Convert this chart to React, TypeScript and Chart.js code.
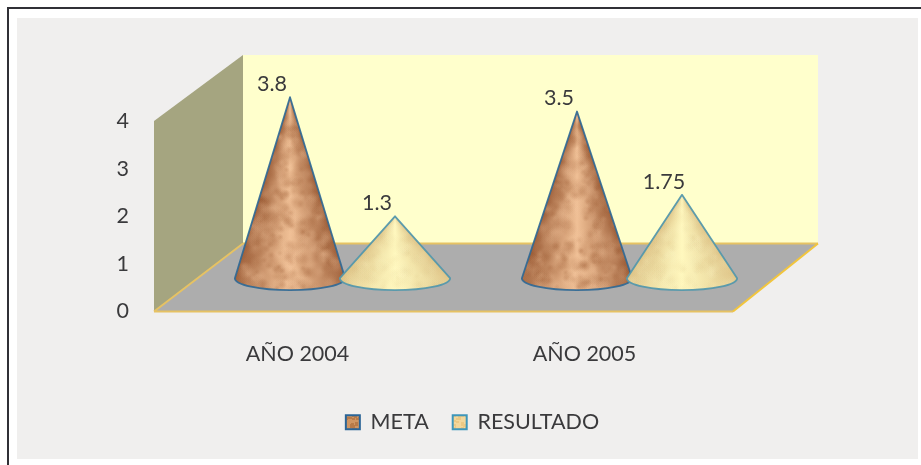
import React, { useEffect, useRef } from "react";
import { Chart, registerables } from "chart.js";

Chart.register(...registerables);

const categories = ["AÑO 2004", "AÑO 2005"];
const metaValues = [3.8, 3.5];
const resultadoValues = [1.3, 1.75];
const yTicks = [0, 1, 2, 3, 4];

const DEPTH_X = 45;
const DEPTH_Y = 33.3;
const TEXT = "#3a3a3c";
const FONT = "Lato, sans-serif";
const FONT_SIZE = 21.5;

type Rgb = [number, number, number];
interface Skin {
  dark: Rgb;
  light: Rgb;
  blot: string;
  blotLight: string;
  blotAlpha: number;
  edge: string;
}

const SKINS: Skin[] = [
  { dark: [160, 98, 60], light: [240, 192, 150], blot: "146,80,40", blotLight: "242,196,156", blotAlpha: 0.18, edge: "rgba(44,104,150,0.9)" },
  { dark: [222, 196, 136], light: [255, 248, 190], blot: "205,175,115", blotLight: "255,250,205", blotAlpha: 0.08, edge: "rgba(84,152,172,0.95)" },
];

// Small deterministic generator so the mottled cone surface is stable between renders.
const lcg = (seed: number) => () => {
  seed = (seed * 1664525 + 1013904223) >>> 0;
  return seed / 4294967296;
};

const mix = (a: Rgb, b: Rgb, t: number) =>
  `rgb(${a.map((v, i) => Math.round(v + (b[i] - v) * t)).join(",")})`;

function drawCone(ctx: CanvasRenderingContext2D, cx: number, baseY: number, apexY: number, r: number, skin: Skin, seed: number) {
  const ry = 12;
  const outline = () => {
    ctx.beginPath();
    ctx.moveTo(cx, apexY);
    ctx.lineTo(cx + r, baseY);
    ctx.ellipse(cx, baseY, r, ry, 0, 0, Math.PI);
    ctx.closePath();
  };
  ctx.save();
  outline();
  ctx.save();
  ctx.clip();
  // Shading converges on the apex, so a conic gradient centred there follows the surface.
  const shade = ctx.createConicGradient(0, cx, apexY);
  const span = 24;
  const h = baseY - apexY;
  for (let i = 0; i <= span; i++) {
    const u = 1 - (2 * i) / span;
    const angle = Math.atan2(h, r * u);
    const t = Math.max(0, 1 - Math.abs(u));
    shade.addColorStop(angle / (2 * Math.PI), mix(skin.dark, skin.light, Math.pow(t, 0.9)));
  }
  ctx.fillStyle = shade;
  ctx.fillRect(cx - r - 2, apexY - 2, 2 * r + 4, h + ry + 4);
  // Soft blotches give the surface its mottled look.
  const rnd = lcg(seed);
  const total = h + ry;
  const count = Math.round(total * 1.9);
  for (let i = 0; i < count; i++) {
    const y = apexY + total * Math.sqrt(rnd());
    const x = cx + (rnd() * 2 - 1) * r * ((y - apexY) / h);
    const br = 3 + rnd() * 6;
    const col = rnd() < 0.55 ? skin.blot : skin.blotLight;
    const g = ctx.createRadialGradient(x, y, 0, x, y, br);
    g.addColorStop(0, `rgba(${col},${skin.blotAlpha})`);
    g.addColorStop(1, `rgba(${col},0)`);
    ctx.fillStyle = g;
    ctx.fillRect(x - br, y - br, br * 2, br * 2);
  }
  ctx.restore();
  outline();
  ctx.strokeStyle = skin.edge;
  ctx.lineWidth = 1.8;
  ctx.lineJoin = "round";
  ctx.stroke();
  ctx.restore();
}

function swatch(base: string, spot: string, seed: number) {
  const c = document.createElement("canvas");
  c.width = c.height = 12;
  const g = c.getContext("2d")!;
  g.fillStyle = base;
  g.fillRect(0, 0, 12, 12);
  const rnd = lcg(seed);
  g.fillStyle = spot;
  for (let i = 0; i < 14; i++) g.fillRect(Math.floor(rnd() * 12), Math.floor(rnd() * 12), 3, 2);
  return g.createPattern(c, "repeat")!;
}

// Frame, panel and the 3D box behind the cones.
const stagePlugin = {
  id: "stage",
  beforeDraw(chart: any) {
    const { ctx, chartArea: a } = chart;
    const front = a.bottom;
    const backLeft = a.left + 89;
    const backRight = a.right + 90;
    const frontRight = a.right + 5;
    const backTop = a.top - 66;
    const backFloor = a.bottom - 68;
    ctx.save();
    ctx.fillStyle = "#ffffff";
    ctx.fillRect(0, 0, chart.width, chart.height);
    ctx.fillStyle = "#f0efee";
    ctx.fillRect(17, 18, 901, 441);
    ctx.fillStyle = "#303036";
    ctx.fillRect(7, 7, chart.width - 7, 2);
    ctx.fillRect(7, 7, 2, chart.height - 7);

    ctx.fillStyle = "#ffffcc";
    ctx.fillRect(backLeft, backTop, backRight - backLeft, backFloor - backTop);

    ctx.fillStyle = "#a5a580";
    ctx.beginPath();
    ctx.moveTo(a.left, a.top);
    ctx.lineTo(backLeft, backTop);
    ctx.lineTo(backLeft, backFloor);
    ctx.lineTo(a.left, front);
    ctx.closePath();
    ctx.fill();

    ctx.fillStyle = "#adadad";
    ctx.beginPath();
    ctx.moveTo(a.left, front);
    ctx.lineTo(backLeft, backFloor);
    ctx.lineTo(backRight, backFloor);
    ctx.lineTo(frontRight, front);
    ctx.closePath();
    ctx.fill();

    ctx.strokeStyle = "#e6c263";
    ctx.lineWidth = 2;
    ctx.beginPath();
    ctx.moveTo(backLeft, backFloor);
    ctx.lineTo(backRight, backFloor);
    ctx.moveTo(a.left, front);
    ctx.lineTo(backLeft, backFloor);
    ctx.moveTo(a.left, front);
    ctx.lineTo(frontRight, front);
    ctx.stroke();
    ctx.strokeStyle = "#f2c53c";
    ctx.beginPath();
    ctx.moveTo(frontRight, front);
    ctx.lineTo(backRight, backFloor);
    ctx.stroke();
    ctx.restore();
  },
};

// Cones and value labels, placed from the bar elements the chart has laid out.
const conePlugin = {
  id: "cones",
  afterDatasetsDraw(chart: any) {
    const { ctx } = chart;
    const y = chart.scales.y;
    chart.data.datasets.forEach((ds: any, di: number) => {
      chart.getDatasetMeta(di).data.forEach((bar: any, i: number) => {
        const value = ds.data[i];
        const cx = bar.x + DEPTH_X;
        const baseY = y.getPixelForValue(0) - DEPTH_Y;
        const apexY = y.getPixelForValue(value) - DEPTH_Y;
        drawCone(ctx, cx, baseY, apexY, bar.width * 0.525, SKINS[di], 11 + di * 37 + i * 101);
        ctx.save();
        ctx.fillStyle = TEXT;
        ctx.font = `${FONT_SIZE}px ${FONT}`;
        ctx.textAlign = "center";
        ctx.textBaseline = "middle";
        ctx.fillText(String(value), cx - 18, apexY - 13);
        ctx.restore();
      });
    });
  },
};

export default function App() {
  const ref = useRef<HTMLCanvasElement>(null);

  useEffect(() => {
    const fills = [swatch("#cf9562", "#b87a48", 3), swatch("#f3d79b", "#ecc984", 5)];
    const edges = ["#2a6496", "#3f97ba"];
    const chart = new Chart(ref.current!, {
      type: "bar",
      data: {
        labels: categories,
        datasets: [
          { label: "META", data: metaValues, backgroundColor: "transparent", borderWidth: 0 },
          { label: "RESULTADO", data: resultadoValues, backgroundColor: "transparent", borderWidth: 0 },
        ],
      },
      options: {
        responsive: false,
        animation: false,
        layout: { padding: { left: 24, right: 0, top: 121, bottom: 22 } },
        datasets: { bar: { categoryPercentage: 0.7317, barPercentage: 1 } },
        scales: {
          x: {
            grid: { display: false },
            border: { display: false },
            ticks: { color: TEXT, font: { family: FONT, size: FONT_SIZE }, padding: 22, maxRotation: 0 },
            afterFit: (s: any) => { s.height = 76; },
          },
          y: {
            min: yTicks[0],
            max: yTicks[yTicks.length - 1],
            grid: { display: false },
            border: { display: false },
            ticks: { stepSize: 1, color: TEXT, font: { family: FONT, size: FONT_SIZE }, padding: 17 },
            afterFit: (s: any) => { s.width = 130; },
          },
          // Blank margin on the right so the legend stays centred under the whole panel.
          margin: {
            position: "right",
            display: true,
            grid: { display: false },
            border: { display: false },
            ticks: { display: false },
            afterFit: (s: any) => { s.width = 193; },
          },
        },
        plugins: {
          title: { display: false },
          tooltip: { enabled: false },
          legend: {
            position: "bottom",
            labels: {
              color: TEXT,
              font: { family: FONT, size: FONT_SIZE },
              boxWidth: 14,
              boxHeight: 14,
              padding: 24,
              generateLabels: (c: any) =>
                c.data.datasets.map((d: any, i: number) => ({
                  text: d.label,
                  fillStyle: fills[i],
                  strokeStyle: edges[i],
                  lineWidth: 2,
                  fontColor: TEXT,
                  datasetIndex: i,
                })),
            },
          },
        },
      } as any,
      plugins: [stagePlugin, conePlugin],
    });
    return () => chart.destroy();
  }, []);

  return (
    <div style={{ position: "fixed", left: 0, top: 0, width: 921, height: 465 }}>
      <canvas ref={ref} width={921} height={465} style={{ display: "block" }} />
    </div>
  );
}
